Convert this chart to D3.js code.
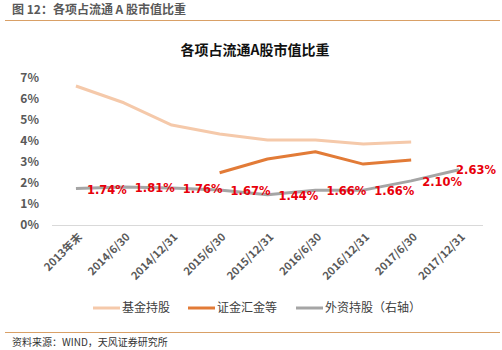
<!DOCTYPE html>
<html>
<head>
<meta charset="utf-8">
<script src="https://cdn.jsdelivr.net/npm/d3@7"></script>
<style>
  body { margin: 0; background: #fff; }
  svg { font-family: "Noto Sans CJK SC", "DejaVu Sans", sans-serif; }
</style>
</head>
<body>
<div id="chart"></div>
<script>
const categories = ["2013年末", "2014/6/30", "2014/12/31", "2015/6/30", "2015/12/31", "2016/6/30", "2016/12/31", "2017/6/30", "2017/12/31"];
const fundHold = [6.62, 5.82, 4.76, 4.33, 4.05, 4.05, 3.86, 3.95, null];
const csfHold = [null, null, null, 2.49, 3.14, 3.49, 2.90, 3.10, null];
const foreignHold = [1.74, 1.81, 1.76, 1.67, 1.44, 1.66, 1.66, 2.10, 2.63];
const yTicks = [0, 1, 2, 3, 4, 5, 6, 7];

const series = [
    { name: "基金持股", values: fundHold, color: "#F5C9AA" },
    { name: "证金汇金等", values: csfHold, color: "#E27B37" },
    { name: "外资持股（右轴）", values: foreignHold, color: "#A5A5A5" }
];

const W = 502, H = 350;
const svg = d3.select("#chart").append("svg").attr("width", W).attr("height", H);

// header
svg.append("text").attr("x", 12).attr("y", 14)
    .style("font-size", "12px").style("font-weight", "bold").attr("fill", "#595959")
    .text("图 12：各项占流通 A 股市值比重");
svg.append("line").attr("x1", 5).attr("x2", 500).attr("y1", 20.5).attr("y2", 20.5)
    .attr("stroke", "#D9A066").attr("stroke-width", 1);

svg.append("text").attr("x", 255).attr("y", 55).attr("text-anchor", "middle")
    .style("font-size", "14px").style("font-weight", "bold").attr("fill", "#111")
    .text("各项占流通A股市值比重");

const x = d3.scaleBand().domain(categories).range([52, 483]);
const y = d3.scaleLinear().domain([0, 7]).range([225, 78]);

// y axis labels
svg.append("g").selectAll("text").data(yTicks).enter().append("text")
    .attr("x", 39).attr("y", d => y(d)).attr("dy", "0.36em")
    .attr("text-anchor", "end")
    .style("font-size", "12px").style("font-weight", "bold").attr("fill", "#595959")
    .text(d => d + "%");

svg.append("line").attr("x1", 52).attr("x2", 483).attr("y1", y(0) + 0.5).attr("y2", y(0) + 0.5)
    .attr("stroke", "#D9D9D9");

// x labels
svg.append("g").selectAll("text").data(categories).enter().append("text")
    .attr("transform", d => `translate(${x(d) + x.bandwidth() / 2 + 4},${y(0) + 10}) rotate(-45)`)
    .attr("text-anchor", "end").attr("dy", "0.35em")
    .style("font-size", "11px").style("font-weight", "bold").attr("fill", "#595959")
    .text(d => d);

const cx = i => x(categories[i]) + x.bandwidth() / 2;
const line = d3.line().defined(d => d != null).x((d, i) => cx(i)).y(d => y(d));

series.forEach(s => {
    svg.append("path").datum(s.values)
        .attr("d", line)
        .attr("fill", "none")
        .attr("stroke", s.color)
        .attr("stroke-width", 3)
        .attr("stroke-linejoin", "round");
});

// data labels on foreign holding
svg.append("g").selectAll("text").data(foreignHold).enter().append("text")
    .attr("x", (d, i) => i === foreignHold.length - 1 ? cx(i) - 3 : cx(i) + 11)
    .attr("y", (d, i) => y(d) + (i === foreignHold.length - 1 ? 0 : 1))
    .attr("dy", "0.36em")
    .style("font-size", "11.5px").style("font-weight", "bold").attr("fill", "#E8000B")
    .style("font-family", "'DejaVu Sans', sans-serif")
    .text(d => d.toFixed(2) + "%");

// legend
const legendX = [93, 188, 296];
const legend = svg.append("g");
series.forEach((s, i) => {
    legend.append("line").attr("x1", legendX[i]).attr("x2", legendX[i] + 27)
        .attr("y1", 308).attr("y2", 308)
        .attr("stroke", s.color).attr("stroke-width", 3);
    legend.append("text").attr("x", legendX[i] + 29).attr("y", 308).attr("dy", "0.36em")
        .style("font-size", "12px").attr("fill", "#404040")
        .text(s.name);
});

// footer
svg.append("line").attr("x1", 5).attr("x2", 500).attr("y1", 332.5).attr("y2", 332.5)
    .attr("stroke", "#D9A066");
svg.append("text").attr("x", 12).attr("y", 346)
    .style("font-size", "10px").attr("fill", "#333")
    .text("资料来源：WIND，天风证券研究所");
</script>
</body>
</html>
